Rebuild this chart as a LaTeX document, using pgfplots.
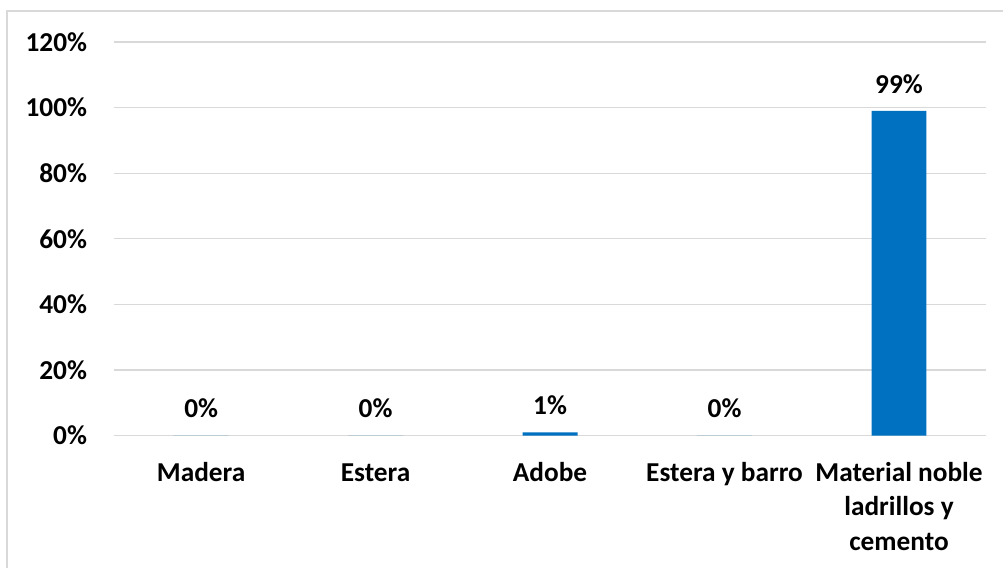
\documentclass[border=0pt]{standalone}
\usepackage{pgfplots}
\pgfplotsset{compat=1.18}
\usepackage{fontspec}
\setmainfont{Carlito}
\definecolor{barblue}{HTML}{0070C0}
\definecolor{gridgray}{HTML}{D9D9D9}
\begin{document}
\begin{tikzpicture}
\path (0pt,0pt) rectangle (753pt,426pt);
\draw[gridgray, line width=1.2pt] (5.25pt,0pt) -- (5.25pt,417.75pt) -- (753pt,417.75pt);
\begin{axis}[
  at={(85.5pt,99pt)}, anchor=south west,
  scale only axis, width=654.75pt, height=295.5pt,
  ybar, bar width=41.25pt, bar shift=0pt,
  xmin=-0.5, xmax=4.5, ymin=0, ymax=120,
  xtick={0,1,2,3,4},
  xticklabels={\strut Madera,\strut Estera,\strut Adobe,\strut Estera y barro,\strut Material noble\\ladrillos y\\cemento},
  ytick={0,20,40,60,80,100,120},
  yticklabels={0\%,20\%,40\%,60\%,80\%,100\%,120\%},
  axis line style={draw=none},
  major tick length=0pt,
  ymajorgrids, grid style={gridgray, line width=1pt},
  tick label style={font=\fontsize{20.5}{26}\selectfont\bfseries, text=black},
  yticklabel style={anchor=east, inner sep=0pt, xshift=-20pt},
  xticklabel style={anchor=north, inner sep=0pt, yshift=-15.8pt, align=center},
  nodes near coords={\pgfmathprintnumber[assume math mode=true]{\pgfplotspointmeta}\%},
  every node near coord/.style={anchor=south, inner sep=0pt, yshift=13pt, font=\fontsize{20.5}{26}\selectfont\bfseries, text=black},
  clip=false,
]
\addplot[fill=barblue, draw=none] coordinates {(0,0) (1,0) (2,1) (3,0) (4,99)};
\end{axis}
\end{tikzpicture}
\end{document}
